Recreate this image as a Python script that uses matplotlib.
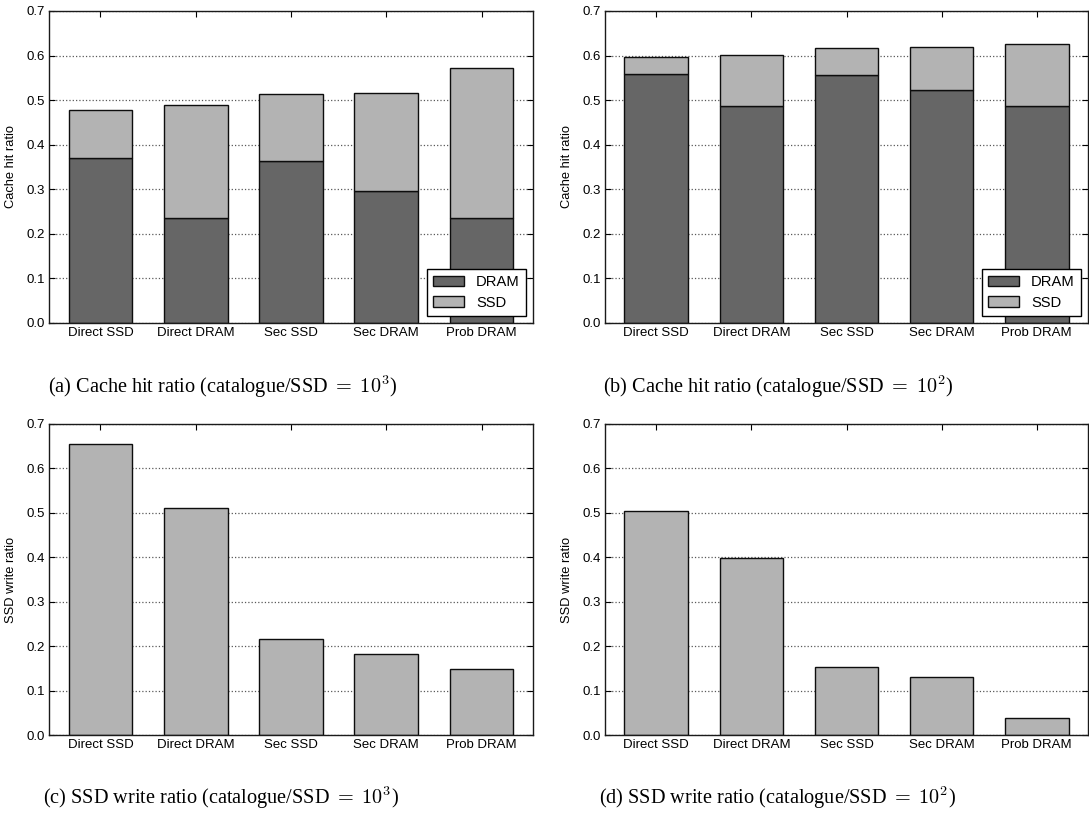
import matplotlib
matplotlib.use('Agg')
import matplotlib.pyplot as plt
import numpy as np

# Data
schemes = ['Direct SSD', 'Direct DRAM', 'Sec SSD', 'Sec DRAM', 'Prob DRAM']

# (a) catalogue/SSD = 10^3 : cache hit ratio split into DRAM and SSD parts
hit_dram_1e3 = [0.371, 0.236, 0.364, 0.297, 0.236]
hit_total_1e3 = [0.477, 0.489, 0.513, 0.515, 0.573]

# (b) catalogue/SSD = 10^2
hit_dram_1e2 = [0.558, 0.487, 0.556, 0.522, 0.487]
hit_total_1e2 = [0.596, 0.601, 0.616, 0.619, 0.625]

# (c), (d) SSD write ratio
write_1e3 = [0.655, 0.510, 0.216, 0.183, 0.149]
write_1e2 = [0.505, 0.399, 0.152, 0.131, 0.038]

captions = [r'(a) Cache hit ratio (catalogue/SSD $=$ $10^3$)',
            r'(b) Cache hit ratio (catalogue/SSD $=$ $10^2$)',
            r'(c) SSD write ratio (catalogue/SSD $=$ $10^3$)',
            r'(d) SSD write ratio (catalogue/SSD $=$ $10^2$)']

DRAM_COLOR = '#666666'
SSD_COLOR = '#b3b3b3'

plt.rcParams['font.family'] = ['Liberation Sans', 'DejaVu Sans']
plt.rcParams['mathtext.fontset'] = 'cm'


def style_axes(ax, ylabel):
    x = np.arange(len(schemes))
    ax.set_xlim(-0.54, len(schemes) - 1 + 0.54)
    ax.set_ylim(0, 0.7)
    ax.set_xticks(x)
    ax.set_xticklabels(schemes, fontsize=9.5)
    ax.set_yticks(np.arange(0, 0.71, 0.1))
    ax.set_yticklabels(['%.1f' % v for v in np.arange(0, 0.71, 0.1)], fontsize=9.5)
    ax.set_ylabel(ylabel, fontsize=9.3, labelpad=7)
    ax.tick_params(direction='in', top=True, right=True, length=4, width=0.8, pad=3)
    ax.grid(axis='y', linestyle=':', color='0.35', linewidth=0.9)
    ax.set_axisbelow(True)
    for s in ax.spines.values():
        s.set_linewidth(1.0)
        s.set_color('0.1')


def plot_hit(ax, dram, total):
    x = np.arange(len(schemes))
    ssd = np.array(total) - np.array(dram)
    ax.bar(x, dram, width=0.67, color=DRAM_COLOR, edgecolor='0.05', linewidth=1.0, label='DRAM')
    ax.bar(x, ssd, width=0.67, bottom=dram, color=SSD_COLOR, edgecolor='0.05', linewidth=1.0, label='SSD')
    style_axes(ax, 'Cache hit ratio')
    ax.legend(loc='lower right', fontsize=10.6, fancybox=False, edgecolor='black',
              framealpha=1, handlelength=2.1, handleheight=0.7, borderaxespad=0.5,
              labelspacing=0.45, handletextpad=0.8, borderpad=0.4).get_frame().set_linewidth(1.0)


def plot_write(ax, vals):
    x = np.arange(len(schemes))
    ax.bar(x, vals, width=0.67, color=SSD_COLOR, edgecolor='0.05', linewidth=1.0)
    style_axes(ax, 'SSD write ratio')


W, H = 1089, 814
fig = plt.figure(figsize=(W / 100, H / 100), dpi=100)

aw = 484 / W
ah = 312 / H
ax_a = fig.add_axes([49 / W, 1 - 323 / H, aw, ah])
ax_b = fig.add_axes([605 / W, 1 - 323 / H, 483 / W, ah])
ax_c = fig.add_axes([49 / W, 1 - 735 / H, aw, 311 / H])
ax_d = fig.add_axes([605 / W, 1 - 735 / H, 483 / W, 311 / H])

plot_hit(ax_a, hit_dram_1e3, hit_total_1e3)
plot_hit(ax_b, hit_dram_1e2, hit_total_1e2)
plot_write(ax_c, write_1e3)
plot_write(ax_d, write_1e2)

cap_pos = [(48, 387), (603, 387), (43, 798), (599, 798)]
for (cx, cy), cap in zip(cap_pos, captions):
    fig.text(cx / W, 1 - cy / H, cap, ha='left', va='center', fontsize=14.6,
             family=['Liberation Serif', 'DejaVu Serif'])

fig.savefig('out.png', dpi=100, facecolor='white')
